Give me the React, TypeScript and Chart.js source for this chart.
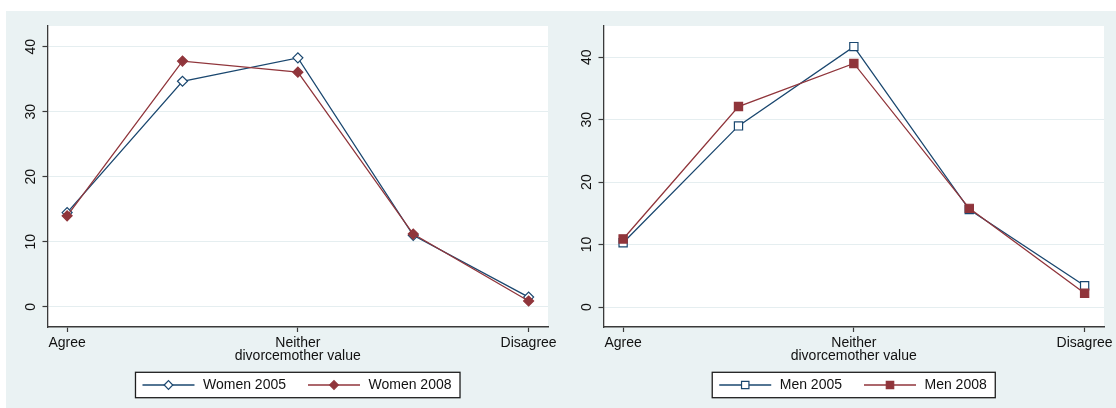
import React, { useEffect, useRef } from "react";
import { Chart, registerables } from "chart.js";

Chart.register(...registerables);

// Response positions on the divorcemother scale and the ones that carry a label
const positions = [1, 2, 3, 4, 5];
const xTickValues = [1, 3, 5];
const xTickLabels = ["Agree", "Neither", "Disagree"];
const yTickValues = [0, 10, 20, 30, 40];
const xAxisTitle = "divorcemother value";

// Percentages per response, by survey year
const women2005 = [14.5, 34.7, 38.3, 11.0, 1.5];
const women2008 = [14.0, 37.8, 36.1, 11.2, 0.9];
const men2005 = [10.3, 29.0, 41.7, 15.6, 3.4];
const men2008 = [10.9, 32.1, 39.0, 15.8, 2.2];

const FONT_FAMILY = '"Liberation Sans", Arial, Helvetica, sans-serif';
const FONT_SIZE = 14;
const NAVY = "#1a476f";
const MAROON = "#90353b";
const REGION_BG = "#eaf2f3";
const GRID = "#e5eef0";
const AXIS = "#3a3a3a";
const TEXT = "#111111";

type Marker = "rectRot" | "rect";
type Series = {
  label: string;
  values: number[];
  color: string;
  marker: Marker;
  hollow: boolean;
  radius: number;
};

const womenSeries: Series[] = [
  { label: "Women 2005", values: women2005, color: NAVY, marker: "rectRot", hollow: true, radius: 5 },
  { label: "Women 2008", values: women2008, color: MAROON, marker: "rectRot", hollow: false, radius: 5 },
];
const menSeries: Series[] = [
  { label: "Men 2005", values: men2005, color: NAVY, marker: "rect", hollow: true, radius: 5.8 },
  { label: "Men 2008", values: men2008, color: MAROON, marker: "rect", hollow: false, radius: 5.8 },
];

// White plot region inside the tinted graph region
const plotRegionPlugin = {
  id: "plotRegion",
  beforeDraw(chart: any) {
    const { ctx, chartArea } = chart;
    ctx.save();
    ctx.fillStyle = "#ffffff";
    ctx.fillRect(chartArea.left, chartArea.top, chartArea.right - chartArea.left, chartArea.bottom - chartArea.top);
    ctx.restore();
  },
};

function drawLegendMarker(ctx: CanvasRenderingContext2D, marker: Marker, x: number, y: number, fill: string, stroke: string) {
  ctx.beginPath();
  if (marker === "rectRot") {
    const r = 4.3;
    ctx.moveTo(x - r, y);
    ctx.lineTo(x, y - r);
    ctx.lineTo(x + r, y);
    ctx.lineTo(x, y + r);
    ctx.closePath();
  } else {
    const h = 3.7;
    ctx.rect(x - h, y - h, 2 * h, 2 * h);
  }
  ctx.fillStyle = fill;
  ctx.fill();
  ctx.strokeStyle = stroke;
  ctx.lineWidth = 1.2;
  ctx.stroke();
}

// Boxed legend under the axis title: line sample with marker, then the label
const legendBoxPlugin = {
  id: "legendBox",
  afterDraw(chart: any, _args: any, opts: any) {
    const { ctx, chartArea } = chart;
    const datasets = chart.data.datasets;
    ctx.save();
    ctx.font = `${FONT_SIZE}px ${FONT_FAMILY}`;
    const widths = datasets.map((ds: any) => ctx.measureText(ds.label).width);
    const padL = 7;
    const padR = 8.5;
    const lineLen = 52;
    const gapText = 8.5;
    const gapItem = 22;
    const total =
      padL + padR +
      widths.reduce((s: number, w: number) => s + lineLen + gapText + w, 0) +
      gapItem * (datasets.length - 1);
    const cx = (chartArea.left + chartArea.right) / 2;
    const left = cx - total / 2;
    const top = opts.top;
    const height = opts.height;
    const mid = top + height / 2;

    ctx.fillStyle = "#ffffff";
    ctx.fillRect(left, top, total, height);
    ctx.strokeStyle = "#1e1e1e";
    ctx.lineWidth = 1.3;
    ctx.strokeRect(left, top, total, height);

    let x = left + padL;
    datasets.forEach((ds: any, i: number) => {
      ctx.strokeStyle = ds.borderColor;
      ctx.lineWidth = ds.borderWidth;
      ctx.beginPath();
      ctx.moveTo(x, mid);
      ctx.lineTo(x + lineLen, mid);
      ctx.stroke();
      drawLegendMarker(ctx, ds.pointStyle, x + lineLen / 2, mid, ds.pointBackgroundColor, ds.pointBorderColor);
      x += lineLen + gapText;
      ctx.fillStyle = TEXT;
      ctx.textAlign = "left";
      ctx.textBaseline = "middle";
      ctx.fillText(ds.label, x, mid);
      x += widths[i] + gapItem;
    });
    ctx.restore();
  },
};

const font = { family: FONT_FAMILY, size: FONT_SIZE };

function Panel({ series, yMin, yMax, left }: { series: Series[]; yMin: number; yMax: number; left: number }) {
  const ref = useRef<HTMLCanvasElement>(null);

  useEffect(() => {
    const canvas = ref.current;
    if (!canvas) return;
    const chart = new Chart(canvas, {
      type: "line",
      data: {
        datasets: series.map((s, i) => ({
          label: s.label,
          data: positions.map((p, j) => ({ x: p, y: s.values[j] })),
          borderColor: s.color,
          backgroundColor: s.color,
          borderWidth: 1.3,
          pointStyle: s.marker,
          pointRadius: s.radius,
          pointBackgroundColor: s.hollow ? "#ffffff" : s.color,
          pointBorderColor: s.color,
          pointBorderWidth: 1.2,
          tension: 0,
          fill: false,
          order: series.length - 1 - i,
        })),
      },
      options: {
        responsive: false,
        animation: false,
        events: [],
        layout: { padding: { left: 0, top: 15, right: 14, bottom: 43.9 } },
        plugins: {
          legend: { display: false },
          tooltip: { enabled: false },
          legendBox: { top: 361.3, height: 25.4 },
        } as any,
        scales: {
          x: {
            type: "linear",
            min: 0.83,
            max: 5.168,
            afterBuildTicks: (scale: any) => {
              scale.ticks = xTickValues.map((v) => ({ value: v }));
            },
            afterFit: (scale: any) => {
              scale.height = 37.1;
            },
            ticks: {
              autoSkip: false,
              minRotation: 0,
              maxRotation: 0,
              padding: 3,
              color: TEXT,
              font,
              callback: (v: any) => xTickLabels[xTickValues.indexOf(Number(v))] ?? "",
            },
            grid: {
              drawOnChartArea: false,
              drawTicks: true,
              tickLength: 5,
              tickColor: AXIS,
              tickWidth: 1.2,
            },
            border: { display: true, color: AXIS, width: 1.6 },
            title: { display: true, text: xAxisTitle, padding: 0, color: TEXT, font },
          },
          y: {
            type: "linear",
            min: yMin,
            max: yMax,
            afterBuildTicks: (scale: any) => {
              scale.ticks = yTickValues.map((v) => ({ value: v }));
            },
            afterFit: (scale: any) => {
              scale.width = 41.5;
            },
            ticks: {
              minRotation: 90,
              maxRotation: 90,
              crossAlign: "center",
              padding: 4,
              color: TEXT,
              font,
            },
            grid: {
              color: GRID,
              lineWidth: 1,
              drawTicks: true,
              tickLength: 5,
              tickColor: AXIS,
              tickWidth: 1.2,
            },
            border: { display: true, color: AXIS, width: 1.3 },
          },
        },
      } as any,
      plugins: [plotRegionPlugin, legendBoxPlugin],
    });
    return () => chart.destroy();
  }, [series, yMin, yMax]);

  return (
    <canvas
      ref={ref}
      width={556}
      height={397}
      style={{ position: "absolute", left, top: 11, width: 556, height: 397, display: "block" }}
    />
  );
}

export default function App() {
  return (
    <div
      style={{
        position: "absolute",
        left: 0,
        top: 0,
        width: 1116,
        height: 408,
        overflow: "hidden",
        background: "#ffffff",
      }}
    >
      <div style={{ position: "absolute", left: 6, top: 11, width: 1110, height: 397, background: REGION_BG }} />
      <Panel series={womenSeries} yMin={-3.1} yMax={43.2} left={6} />
      <Panel series={menSeries} yMin={-3.2} yMax={45.0} left={562} />
    </div>
  );
}
